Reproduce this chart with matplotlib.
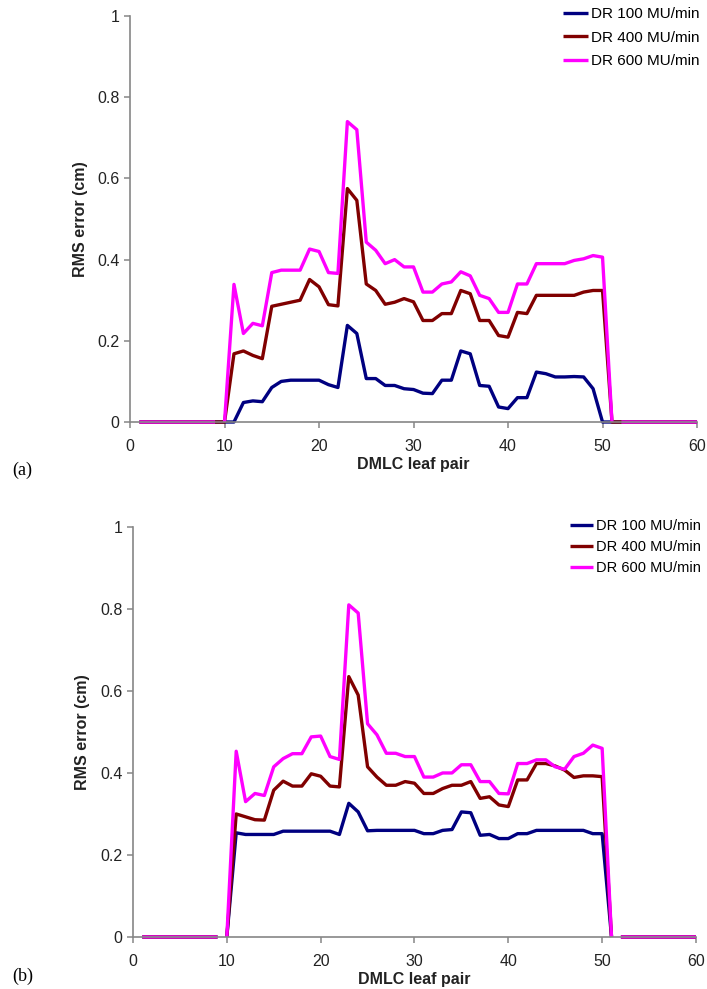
import numpy as np
import matplotlib
matplotlib.use("Agg")
import matplotlib.pyplot as plt

plt.rcParams['font.family'] = ['Liberation Sans', 'DejaVu Sans']

leaf = list(range(1, 61))
series_labels = ["DR 100 MU/min", "DR 400 MU/min", "DR 600 MU/min"]
series_colors = ["#000080", "#800000", "#FF00FF"]

# panel (a) RMS error (cm) per leaf pair
a_dr100 = [0, 0, 0, 0, 0, 0, 0, 0, 0, 0,
           0, 0.048, 0.052, 0.05, 0.085, 0.1, 0.103, 0.103, 0.103, 0.103,
           0.092, 0.085, 0.238, 0.218, 0.107, 0.107, 0.09, 0.09, 0.082, 0.08,
           0.071, 0.07, 0.103, 0.103, 0.175, 0.168, 0.09, 0.088, 0.037, 0.033,
           0.06, 0.06, 0.123, 0.119, 0.111, 0.111, 0.112, 0.111, 0.082, 0,
           0, 0, 0, 0, 0, 0, 0, 0, 0, 0]
a_dr400 = [0, 0, 0, 0, 0, 0, 0, 0, 0, 0,
           0.168, 0.175, 0.164, 0.156, 0.285, 0.29, 0.295, 0.3, 0.351, 0.333,
           0.289, 0.286, 0.575, 0.546, 0.34, 0.324, 0.29, 0.295, 0.304, 0.296,
           0.25, 0.25, 0.267, 0.267, 0.324, 0.316, 0.25, 0.25, 0.213, 0.209,
           0.27, 0.267, 0.312, 0.312, 0.312, 0.312, 0.312, 0.32, 0.324, 0.324,
           0, 0, 0, 0, 0, 0, 0, 0, 0, 0]
a_dr600 = [0, 0, 0, 0, 0, 0, 0, 0, 0, 0,
           0.339, 0.218, 0.243, 0.237, 0.368, 0.374, 0.374, 0.374, 0.426, 0.42,
           0.368, 0.366, 0.74, 0.72, 0.443, 0.423, 0.39, 0.4, 0.382, 0.382,
           0.32, 0.32, 0.34, 0.345, 0.37, 0.36, 0.312, 0.304, 0.27, 0.27,
           0.34, 0.34, 0.39, 0.39, 0.39, 0.39, 0.398, 0.402, 0.41, 0.406,
           0, 0, 0, 0, 0, 0, 0, 0, 0, 0]

# panel (b)
b_dr100 = [0, 0, 0, 0, 0, 0, 0, 0, 0, 0,
           0.254, 0.25, 0.25, 0.25, 0.25, 0.258, 0.258, 0.258, 0.258, 0.258,
           0.258, 0.25, 0.326, 0.305, 0.259, 0.26, 0.26, 0.26, 0.26, 0.26,
           0.252, 0.252, 0.26, 0.262, 0.305, 0.303, 0.248, 0.25, 0.24, 0.24,
           0.252, 0.252, 0.26, 0.26, 0.26, 0.26, 0.26, 0.26, 0.252, 0.252,
           0, 0, 0, 0, 0, 0, 0, 0, 0, 0]
b_dr400 = [0, 0, 0, 0, 0, 0, 0, 0, 0, 0,
           0.3, 0.293, 0.286, 0.285, 0.358, 0.38, 0.368, 0.368, 0.398, 0.392,
           0.368, 0.366, 0.635, 0.59, 0.415, 0.39, 0.37, 0.37, 0.379, 0.375,
           0.35, 0.35, 0.362, 0.37, 0.37, 0.379, 0.338, 0.342, 0.322, 0.318,
           0.383, 0.383, 0.423, 0.423, 0.417, 0.407, 0.389, 0.393, 0.393, 0.391,
           0, 0, 0, 0, 0, 0, 0, 0, 0, 0]
b_dr600 = [0, 0, 0, 0, 0, 0, 0, 0, 0, 0,
           0.453, 0.33, 0.35, 0.345, 0.415, 0.435, 0.447, 0.447, 0.488, 0.49,
           0.44, 0.433, 0.81, 0.79, 0.52, 0.493, 0.448, 0.448, 0.44, 0.44,
           0.39, 0.39, 0.4, 0.4, 0.42, 0.42, 0.379, 0.379, 0.35, 0.349,
           0.423, 0.423, 0.432, 0.432, 0.415, 0.409, 0.44, 0.448, 0.468, 0.46,
           0, 0, 0, 0, 0, 0, 0, 0, 0, 0]

# leaf pairs after which a series line is broken
a_gaps = [[], [], [9, 51]]
b_gaps = [[9, 51], [9, 51], [9, 51]]

x_ticks = [0, 10, 20, 30, 40, 50, 60]
y_ticks = [0, 0.2, 0.4, 0.6, 0.8, 1]
y_tick_labels = ["0", "0.2", "0.4", "0.6", "0.8", "1"]


def with_gaps(x, y, gaps):
    xs, ys = [], []
    for xi, yi in zip(x, y):
        xs.append(xi)
        ys.append(yi)
        if xi in gaps:
            xs.append(np.nan)
            ys.append(np.nan)
    return xs, ys


def draw_panel(ax, data, gaps, legend_anchor, legend_size, legend_spacing):
    for vals, gap, color, label in zip(data, gaps, series_colors, series_labels):
        xs, ys = with_gaps(leaf, vals, gap)
        ax.plot(xs, ys, color=color, lw=2.4, label=label,
                solid_capstyle='butt', solid_joinstyle='round', clip_on=False)

    ax.set_xlim(0, 60)
    ax.set_ylim(0, 1)
    ax.set_xticks(x_ticks)
    ax.set_yticks(y_ticks)
    ax.set_yticklabels(y_tick_labels)
    for side in ['top', 'right']:
        ax.spines[side].set_visible(False)
    for side in ['left', 'bottom']:
        ax.spines[side].set_color('#868686')
        ax.spines[side].set_linewidth(1.2)
    ax.tick_params(axis='both', direction='out', length=4.5, width=1.1,
                   color='#868686', labelsize=11.5, labelcolor='#222222')
    ax.tick_params(axis='x', pad=8)
    ax.tick_params(axis='y', pad=3)

    ax.set_xlabel('DMLC leaf pair', fontsize=11.5, fontweight='bold',
                  color='#222222', labelpad=2)
    ax.set_ylabel('RMS error (cm)', fontsize=11.5, fontweight='bold',
                  color='#222222', labelpad=7)

    ax.legend(loc='upper left', bbox_to_anchor=legend_anchor, frameon=False,
              fontsize=legend_size, handlelength=1.6, handletextpad=0.2,
              labelspacing=legend_spacing, borderpad=0, borderaxespad=0)


fig = plt.figure(figsize=(7.07, 9.89), dpi=100)

ax_a = fig.add_axes([0.1839, 0.5733, 0.802, 0.4105])
draw_panel(ax_a, [a_dr100, a_dr400, a_dr600], a_gaps, (0.764, 1.022), 11, 0.62)

ax_b = fig.add_axes([0.1881, 0.0526, 0.7963, 0.4146])
draw_panel(ax_b, [b_dr100, b_dr400, b_dr600], b_gaps, (0.776, 1.02), 10.5, 0.5)

fig.text(12 / 707, 1 - 470 / 989, '(a)', family='Liberation Serif',
         fontsize=13, va='center', ha='left')
fig.text(12 / 707, 1 - 976 / 989, '(b)', family='Liberation Serif',
         fontsize=13, va='center', ha='left')

fig.savefig('out.png', dpi=100)
plt.close(fig)
